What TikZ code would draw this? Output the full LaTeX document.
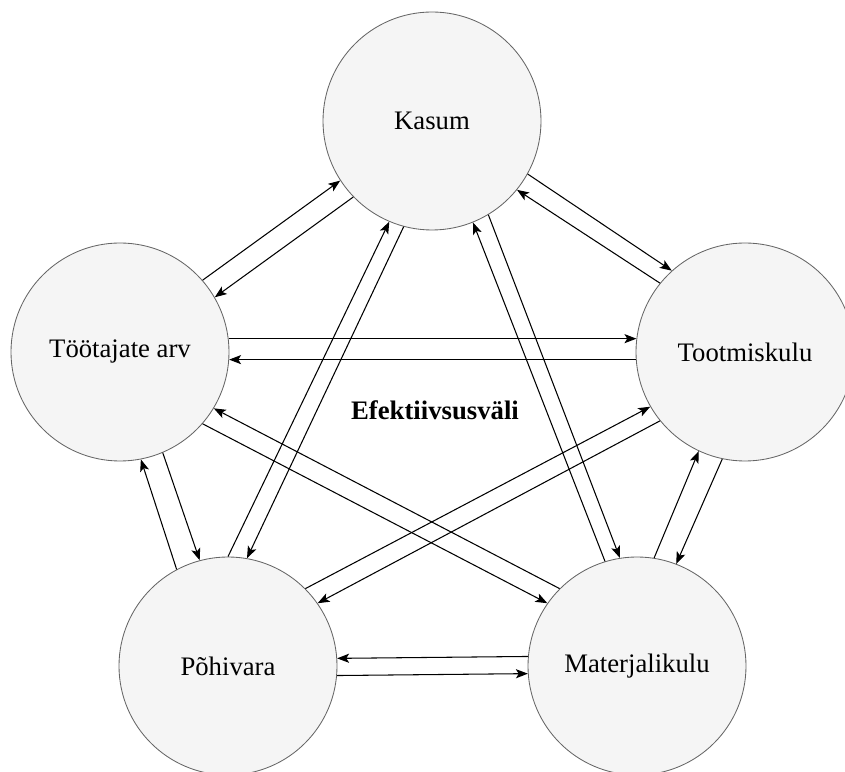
\documentclass[tikz,border=0pt]{standalone}
\usepackage{fontspec}
\setmainfont{Liberation Serif}
\usetikzlibrary{arrows.meta}
\definecolor{ringline}{HTML}{666666}
\definecolor{ringfill}{HTML}{F5F5F5}
\begin{document}
\begin{tikzpicture}
  [scale=1,every node/.style={font=\fontsize{19}{22}\selectfont},
   blob/.style={circle,draw=ringline,fill=ringfill,line width=0.6pt,minimum size=5.45cm},
   >={Stealth[length=8.5pt,width=6.5pt,inset=2pt]}]
    \useasboundingbox (0,0) rectangle (21.125,19.275);

    \node (K)   [blob] at (10.8,16.25)   {Kasum};
    \node (T)   [blob] at (3.0,10.475)   {Töötajate arv};
    \node (TK)  [blob] at (18.625,10.475) {Tootmiskulu};
    \node (P)   [blob] at (5.7,2.625)    {Põhivara};
    \node (M)   [blob] at (15.925,2.625) {Materjalikulu};

    \node (eff) [font=\fontsize{19}{22}\selectfont\bfseries] at (10.875,9.025) {Efektiivsusväli};

    % each pair: from.angle -> to.angle, head at the "to" end
    \foreach \from/\a/\to/\b in {T/41/K/213,   K/224/T/30,
                                 K/331/TK/132, TK/141/K/321,
                                 T/7/TK/173,   TK/184/T/356,
                                 P/90/K/247,   K/255/P/80,
                                 M/107/K/292,  K/301/M/99,
                                 P/118/T/281,  T/293.5/P/105,
                                 M/81/TK/245,  TK/258/M/69,
                                 M/135/T/329,  T/319/M/145.5,
                                 P/45/TK/210,  TK/219.5/P/35,
                                 M/175.5/P/4.5, P/355.5/M/184.5}
      \draw[->,line width=0.75pt] (\from.\a) -- (\to.\b);
  \end{tikzpicture}
\end{document}
